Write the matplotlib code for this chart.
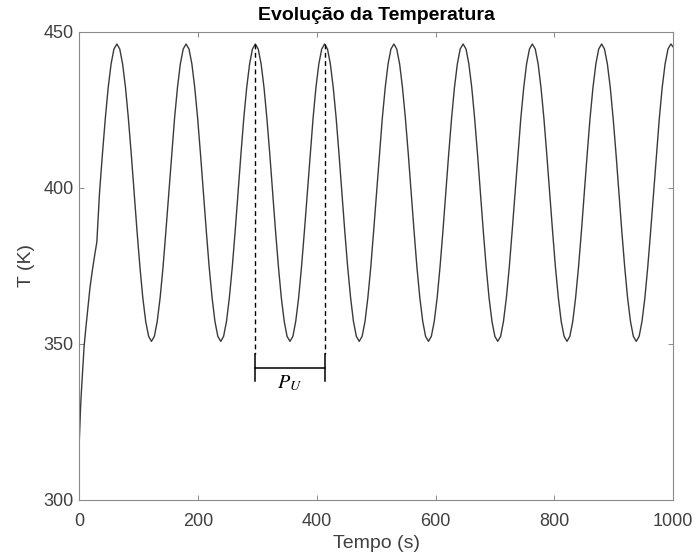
import matplotlib
matplotlib.use('Agg')
import matplotlib.pyplot as plt

# start-up transient
t_rise = [0, 1, 2, 3, 5, 8, 11, 14, 18, 22, 26, 29.5, 32,
          34.0, 38.9, 43.8, 48.6, 53.5, 58.3]
T_rise = [319.0, 324.0, 329.0, 333.0, 339.6, 349.0, 355.0, 360.5, 368.0, 373.5, 378.5, 382.5, 391.5,
          398.3, 410.7, 422.2, 432.0, 439.6, 444.4]

# sustained oscillation, one row per cycle (peak -> next peak)
t_osc = [
    63.2, 68.1, 72.9, 77.8, 82.6, 87.5, 92.4, 97.2, 102.1, 106.9, 111.8, 116.7,
    121.5, 126.4, 131.2, 136.1, 141.0, 145.8, 150.7, 155.5, 160.4, 165.3, 170.1, 175.0,
    179.8, 184.7, 189.6, 194.4, 199.3, 204.1, 209.0, 213.9, 218.7, 223.6, 228.4, 233.3,
    238.2, 243.0, 247.9, 252.7, 257.6, 262.5, 267.3, 272.2, 277.0, 281.9, 286.8, 291.6,
    296.5, 301.3, 306.2, 311.1, 315.9, 320.8, 325.6, 330.5, 335.4, 340.2, 345.1, 349.9,
    354.8, 359.7, 364.5, 369.4, 374.2, 379.1, 384.0, 388.8, 393.7, 398.5, 403.4, 408.3,
    413.1, 418.0, 422.8, 427.7, 432.6, 437.4, 442.3, 447.1, 452.0, 456.9, 461.7, 466.6,
    471.4, 476.3, 481.2, 486.0, 490.9, 495.7, 500.6, 505.5, 510.3, 515.2, 520.0, 524.9,
    529.8, 534.6, 539.5, 544.3, 549.2, 554.1, 558.9, 563.8, 568.6, 573.5, 578.4, 583.2,
    588.1, 592.9, 597.8, 602.7, 607.5, 612.4, 617.2, 622.1, 627.0, 631.8, 636.7, 641.5,
    646.4, 651.3, 656.1, 661.0, 665.8, 670.7, 675.6, 680.4, 685.3, 690.1, 695.0, 699.9,
    704.7, 709.6, 714.4, 719.3, 724.2, 729.0, 733.9, 738.7, 743.6, 748.5, 753.3, 758.2,
    763.0, 767.9, 772.8, 777.6, 782.5, 787.3, 792.2, 797.1, 801.9, 806.8, 811.6, 816.5,
    821.4, 826.2, 831.1, 835.9, 840.8, 845.7, 850.5, 855.4, 860.2, 865.1, 870.0, 874.8,
    879.7, 884.5, 889.4, 894.3, 899.1, 904.0, 908.8, 913.7, 918.6, 923.4, 928.3, 933.1,
    938.0, 942.9, 947.7, 952.6, 957.4, 962.3, 967.2, 972.0, 976.9, 981.7, 986.6, 991.5,
    996.3, 1000.0,
]
T_osc = [
    446.0, 444.4, 439.6, 432.0, 422.2, 410.7, 398.3, 386.0, 374.5, 364.7, 357.1, 352.3,
    350.7, 352.3, 357.1, 364.7, 374.5, 386.0, 398.3, 410.7, 422.2, 432.0, 439.6, 444.4,
    446.0, 444.4, 439.6, 432.0, 422.2, 410.7, 398.3, 386.0, 374.5, 364.7, 357.1, 352.3,
    350.7, 352.3, 357.1, 364.7, 374.5, 386.0, 398.3, 410.7, 422.2, 432.0, 439.6, 444.4,
    446.0, 444.4, 439.6, 432.0, 422.2, 410.7, 398.3, 386.0, 374.5, 364.7, 357.1, 352.3,
    350.7, 352.3, 357.1, 364.7, 374.5, 386.0, 398.3, 410.7, 422.2, 432.0, 439.6, 444.4,
    446.0, 444.4, 439.6, 432.0, 422.2, 410.7, 398.3, 386.0, 374.5, 364.7, 357.1, 352.3,
    350.7, 352.3, 357.1, 364.7, 374.5, 386.0, 398.3, 410.7, 422.2, 432.0, 439.6, 444.4,
    446.0, 444.4, 439.6, 432.0, 422.2, 410.7, 398.3, 386.0, 374.5, 364.7, 357.1, 352.3,
    350.7, 352.3, 357.1, 364.7, 374.5, 386.0, 398.3, 410.7, 422.2, 432.0, 439.6, 444.4,
    446.0, 444.4, 439.6, 432.0, 422.2, 410.7, 398.3, 386.0, 374.5, 364.7, 357.1, 352.3,
    350.7, 352.3, 357.1, 364.7, 374.5, 386.0, 398.3, 410.7, 422.2, 432.0, 439.6, 444.4,
    446.0, 444.4, 439.6, 432.0, 422.2, 410.7, 398.3, 386.0, 374.5, 364.7, 357.1, 352.3,
    350.7, 352.3, 357.1, 364.7, 374.5, 386.0, 398.3, 410.7, 422.2, 432.0, 439.6, 444.4,
    446.0, 444.4, 439.6, 432.0, 422.2, 410.7, 398.3, 386.0, 374.5, 364.7, 357.1, 352.3,
    350.7, 352.3, 357.1, 364.7, 374.5, 386.0, 398.3, 410.7, 422.2, 432.0, 439.6, 444.4,
    446.0, 445.1,
]

# period marker P_U between two consecutive peaks
pu_start = 296.5
pu_end = 413.1
pu_peak = 446.0
pu_bar = 342.2
pu_cap_top = 346.5
pu_cap_bottom = 338.0

x_ticks = [0, 200, 400, 600, 800, 1000]
y_ticks = [300, 350, 400, 450]

plt.rcParams['font.family'] = ['Liberation Sans', 'DejaVu Sans']
plt.rcParams['mathtext.fontset'] = 'stix'

fig = plt.figure(figsize=(6.94, 5.6), dpi=100)
ax = fig.add_axes([0.1143, 0.108, 0.8555, 0.8357])

ax.plot(t_rise + t_osc, T_rise + T_osc, color='#3a3a3a', lw=1.0)

# dashed guides from the peaks down to the bracket
for x in (pu_start, pu_end):
    ax.plot([x, x], [pu_peak, pu_cap_top], color='black', lw=1.0, ls=(0, (3.5, 2.5)))
    ax.plot([x, x], [pu_cap_top, pu_cap_bottom], color='black', lw=1.1)
ax.plot([pu_start, pu_end], [pu_bar, pu_bar], color='black', lw=1.1)
ax.text((pu_start + pu_end) / 2, 337.4, r'$P_U$', fontsize=14.5, ha='center', va='center')

ax.set_xlim(0, 1000)
ax.set_ylim(300, 450)
ax.set_xticks(x_ticks)
ax.set_yticks(y_ticks)

for s in ax.spines.values():
    s.set_color('#8a8a8a')
    s.set_linewidth(0.8)
ax.tick_params(direction='in', length=3.5, width=0.7, color='#8a8a8a',
               labelcolor='#404040', labelsize=13, top=True, right=True, pad=4)
ax.tick_params(axis='x', pad=10)

ax.set_title('Evolução da Temperatura', fontsize=14, fontweight='bold', color='black', pad=8)
ax.set_xlabel('Tempo (s)', fontsize=14, color='#404040', labelpad=3)
ax.set_ylabel('T (K)', fontsize=14, color='#404040', labelpad=6)

plt.savefig('out.png', dpi=100)
